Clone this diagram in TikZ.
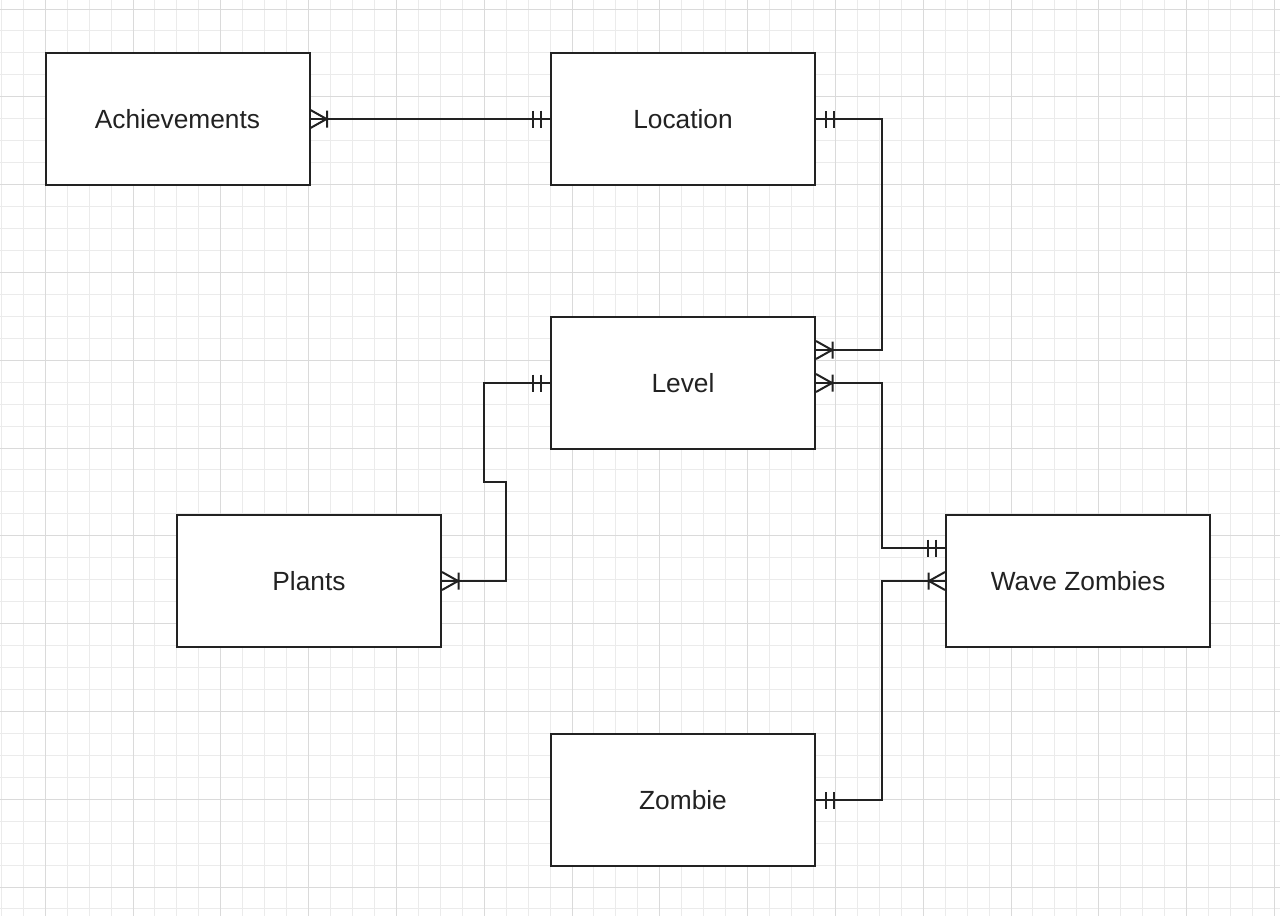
\documentclass[tikz,border=0pt]{standalone}
\usepackage{fontspec}
\setmainfont{Liberation Sans}
\usetikzlibrary{arrows.meta,calc}

\definecolor{ink}{HTML}{222222}
\definecolor{gridminor}{HTML}{EBEBEB}
\definecolor{gridmajor}{HTML}{DADADA}

% crow's foot "one or many"
\pgfdeclarearrow{
  name = ERmany,
  setup code = {
    \pgfarrowssettipend{0pt}
    \pgfarrowssetlineend{0pt}
    \pgfarrowssetbackend{-17pt}
    \pgfarrowssetvisualbackend{-17pt}
    \pgfarrowsupperhullpoint{0pt}{9pt}
    \pgfarrowsupperhullpoint{-17pt}{9pt}
  },
  drawing code = {
    \pgfpathmoveto{\pgfqpoint{0pt}{9pt}}
    \pgfpathlineto{\pgfqpoint{-16pt}{0pt}}
    \pgfpathlineto{\pgfqpoint{0pt}{-9pt}}
    \pgfpathmoveto{\pgfqpoint{-16.5pt}{8.5pt}}
    \pgfpathlineto{\pgfqpoint{-16.5pt}{-8.5pt}}
    \pgfusepathqstroke
  }
}
% "mandatory one"
\pgfdeclarearrow{
  name = ERone,
  setup code = {
    \pgfarrowssettipend{0pt}
    \pgfarrowssetlineend{0pt}
    \pgfarrowssetbackend{-18pt}
    \pgfarrowssetvisualbackend{-18pt}
    \pgfarrowsupperhullpoint{0pt}{8.5pt}
    \pgfarrowsupperhullpoint{-18pt}{8.5pt}
  },
  drawing code = {
    \pgfpathmoveto{\pgfqpoint{-9.5pt}{8.5pt}}
    \pgfpathlineto{\pgfqpoint{-9.5pt}{-8.5pt}}
    \pgfpathmoveto{\pgfqpoint{-17.5pt}{8.5pt}}
    \pgfpathlineto{\pgfqpoint{-17.5pt}{-8.5pt}}
    \pgfusepathqstroke
  }
}

\begin{document}
\begin{tikzpicture}[x=1pt,y=-1pt,
  entity/.style={draw=ink, line width=2pt, fill=white, rectangle,
    minimum width=264pt, minimum height=132pt, inner sep=0pt,
    text=ink, font=\fontsize{26.3}{30}\selectfont},
  conn/.style={draw=ink, line width=2pt},
  minorline/.style={draw=gridminor, line width=1pt},
  majorline/.style={draw=gridmajor, line width=1pt}]

\useasboundingbox (0,0) rectangle (1280,916);
\fill[white] (0,0) rectangle (1280,916);

% grid
\foreach \i in {0,...,58} {
  \draw[minorline] ({1.3+21.95*\i},0) -- ({1.3+21.95*\i},916);
}
\foreach \j in {0,...,42} {
  \draw[minorline] (0,{-12.95+21.95*\j}) -- (1280,{-12.95+21.95*\j});
}
\foreach \i in {0,...,14} {
  \draw[majorline] ({45.2+87.8*\i},0) -- ({45.2+87.8*\i},916);
}
\foreach \j in {0,...,10} {
  \draw[majorline] (0,{9+87.8*\j}) -- (1280,{9+87.8*\j});
}

% entities
\node[entity] (ach) at (177.5,119) {Achievements};
\node[entity] (loc) at (683,119) {Location};
\node[entity] (lev) at (683,383) {Level};
\node[entity] (pl)  at (309,581) {Plants};
\node[entity] (wz)  at (1078,581) {Wave Zombies};
\node[entity] (zom) at (683,800) {Zombie};

% relationships
\draw[conn, {ERmany}-{ERone}] (ach.east) -- (loc.west);
\draw[conn, {ERone}-{ERmany}] (loc.east) -- ++(66,0) |- ($(lev.east)+(0,-33)$);
\draw[conn, {ERmany}-{ERone}] (lev.east) -- ++(66,0) |- ($(wz.west)+(0,-33)$);
\draw[conn, {ERone}-{ERmany}] (zom.east) -- ++(66,0) |- (wz.west);
\draw[conn, {ERone}-{ERmany}] (lev.west) -- ++(-66,0) -- ++(0,99) -- ++(22,0) |- (pl.east);

\end{tikzpicture}
\end{document}
